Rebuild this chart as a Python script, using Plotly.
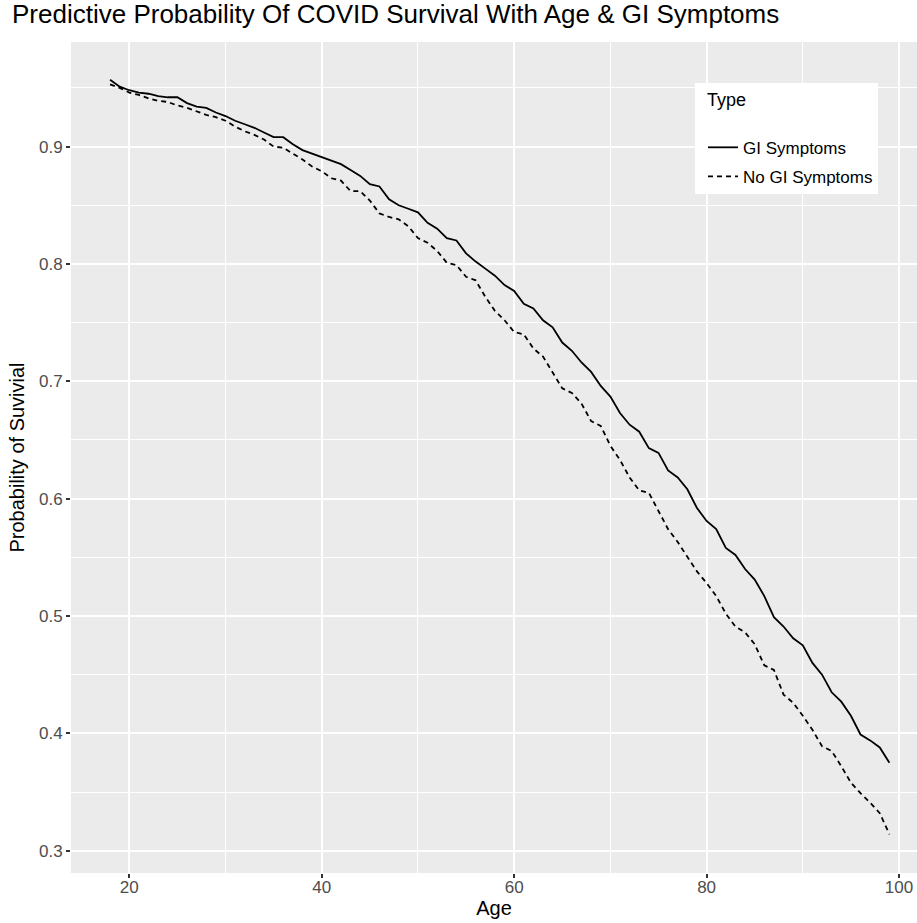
import plotly.graph_objects as go

ages = list(range(18, 100))

gi_symptoms = [
    0.957, 0.951, 0.948, 0.946, 0.945, 0.943, 0.942, 0.942, 0.937, 0.934,
    0.933, 0.929, 0.926, 0.922, 0.919, 0.916, 0.912, 0.908, 0.908, 0.902,
    0.897, 0.894, 0.891, 0.888, 0.885, 0.880, 0.875, 0.868, 0.866, 0.855,
    0.850, 0.847, 0.844, 0.835, 0.830, 0.822, 0.820, 0.809, 0.802, 0.796,
    0.790, 0.782, 0.777, 0.766, 0.762, 0.752, 0.746, 0.733, 0.726, 0.716,
    0.708, 0.696, 0.687, 0.673, 0.663, 0.657, 0.643, 0.639, 0.624, 0.618,
    0.608, 0.592, 0.581, 0.574, 0.558, 0.552, 0.540, 0.531, 0.517, 0.499,
    0.491, 0.481, 0.475, 0.460, 0.450, 0.435, 0.427, 0.415, 0.399, 0.394,
    0.388, 0.375,
]

no_gi_symptoms = [
    0.953, 0.950, 0.946, 0.944, 0.941, 0.939, 0.938, 0.935, 0.933, 0.930,
    0.927, 0.925, 0.922, 0.917, 0.913, 0.910, 0.906, 0.900, 0.899, 0.894,
    0.889, 0.883, 0.879, 0.873, 0.871, 0.862, 0.862, 0.854, 0.843, 0.840,
    0.838, 0.832, 0.822, 0.818, 0.811, 0.801, 0.799, 0.789, 0.786, 0.772,
    0.760, 0.752, 0.742, 0.740, 0.728, 0.721, 0.707, 0.694, 0.690, 0.681,
    0.666, 0.662, 0.645, 0.633, 0.618, 0.607, 0.605, 0.589, 0.574, 0.563,
    0.551, 0.538, 0.528, 0.517, 0.502, 0.491, 0.486, 0.476, 0.458, 0.454,
    0.433, 0.426, 0.415, 0.403, 0.389, 0.385, 0.372, 0.358, 0.349, 0.341,
    0.332, 0.314,
]

FONT = "Liberation Sans, Arial, sans-serif"

fig = go.Figure()
fig.add_trace(go.Scatter(
    x=ages, y=gi_symptoms, mode="lines", name="GI Symptoms", legendgroup="a",
    line=dict(color="black", width=1.8),
))
fig.add_trace(go.Scatter(
    x=ages, y=no_gi_symptoms, mode="lines", name="No GI Symptoms", legendgroup="b",
    line=dict(color="black", width=1.8, dash="5px,4px"),
))

fig.update_layout(
    width=917, height=923,
    margin=dict(l=71, r=0, t=42, b=50, autoexpand=False),
    paper_bgcolor="white",
    plot_bgcolor="#EBEBEB",
    font=dict(family=FONT, color="#4D4D4D"),
    title=dict(
        text="Predictive Probability Of COVID Survival With Age & GI Symptoms",
        x=12 / 917, xanchor="left", y=1 - 14 / 923, yanchor="middle",
        font=dict(family=FONT, size=26, color="black"),
    ),
    legend=dict(
        title=dict(text="&nbsp;&nbsp;Type<br>&nbsp;", font=dict(size=18, color="black")),
        font=dict(size=17, color="black"),
        x=0.7376, xanchor="left", y=0.9507, yanchor="top",
        bgcolor="white", borderwidth=0,
        tracegroupgap=4,
        indentation=8,
        entrywidth=152,
    ),
    showlegend=True,
)

fig.update_xaxes(
    range=[13.94, 101.87], automargin=False,
    tickmode="linear", tick0=20, dtick=20,
    showgrid=True, gridcolor="white", gridwidth=1.8,
    minor=dict(dtick=10, tick0=10, showgrid=True, gridcolor="white", gridwidth=0.9),
    zeroline=False, showline=False,
    ticks="outside", ticklen=4, tickcolor="#333333", tickwidth=1.5,
    tickfont=dict(size=17, color="#4D4D4D"),
    ticklabelstandoff=-5,
    title=dict(text="Age", font=dict(size=20, color="black"), standoff=2),
)
fig.update_yaxes(
    range=[0.281, 0.9891], automargin=False,
    tickmode="linear", tick0=0.3, dtick=0.1, tickformat=".1f",
    showgrid=True, gridcolor="white", gridwidth=1.8,
    minor=dict(dtick=0.05, tick0=0.35, showgrid=True, gridcolor="white", gridwidth=0.9),
    zeroline=False, showline=False,
    ticks="outside", ticklen=4, tickcolor="#333333", tickwidth=1.5,
    tickfont=dict(size=17, color="#4D4D4D"),
    title=dict(text="Probability of Suvivial", font=dict(size=20, color="black"), standoff=8),
)

fig.write_html(
    "out.html",
    config={"displayModeBar": False},
    post_script="document.body.style.margin='0';",
)
